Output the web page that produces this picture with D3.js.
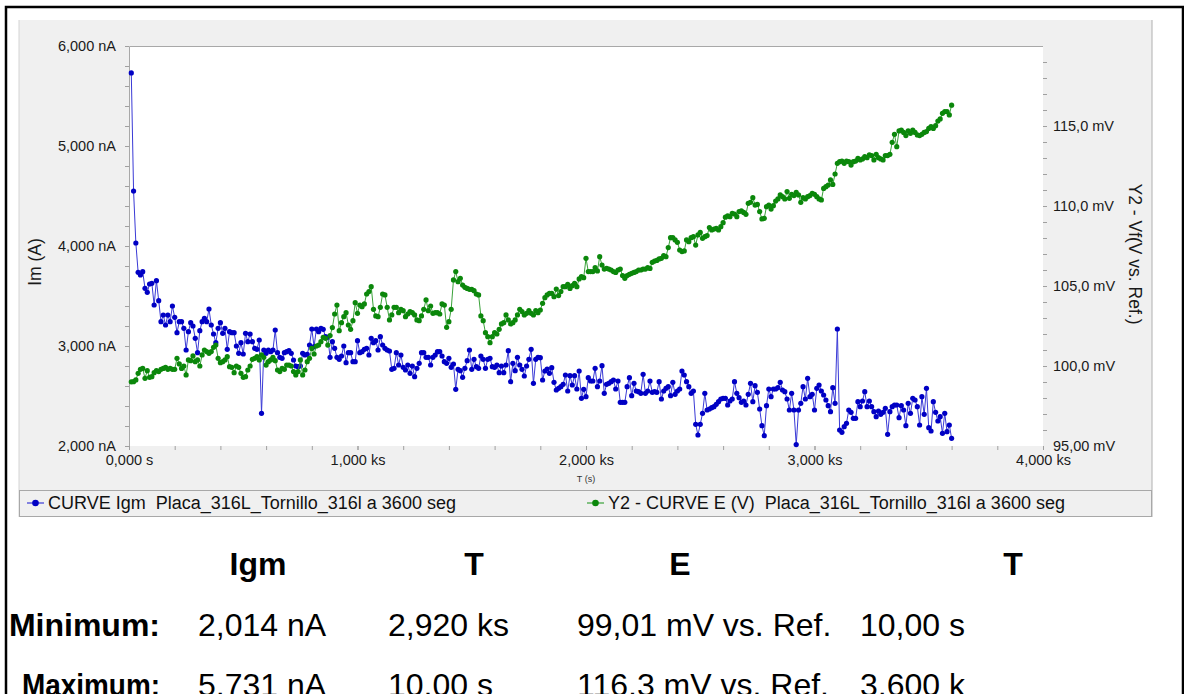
<!DOCTYPE html>
<html>
<head>
<meta charset="utf-8">
<script src="https://cdn.jsdelivr.net/npm/d3@7/dist/d3.min.js"></script>
<style>
  body { margin: 0; background: #fff; }
  svg { display: block; font-family: Arial, "Liberation Sans", sans-serif; }
</style>
</head>
<body>
<svg width="1184" height="694"></svg>
<script>
// readings every 10 s, from 10 s to 3600 s
const sampleStep = 10;

// Igm (nA)
const currentNA = [
  5731, 4550, 4030, 3737, 3710, 3743, 3577, 3537, 3620, 3627,
  3410, 3653, 3453, 3243, 3310, 3210, 3310, 3243, 3400, 3287,
  3133, 3243, 3243, 3177, 2960, 3143, 3233, 3200, 3077, 2933,
  3153, 3243, 3277, 3243, 3370, 3210, 3120, 3033, 3177, 3233,
  3127, 3177, 2967, 3143, 3133, 3133, 3000, 2927, 3033, 2920,
  3127, 3043, 3120, 3043, 2977, 2967, 3060, 2327, 2960, 2927,
  2960, 2943, 2960, 3160, 2933, 2887, 2877, 2933, 2943, 2953,
  2927, 2860, 2800, 2793, 2800, 2927, 2910, 2917, 3010, 3170,
  2993, 3170, 3143, 3177, 3167, 3093, 3087, 2887, 3043, 2977,
  2887, 2867, 2900, 3000, 2833, 2933, 2933, 2843, 2843, 3053,
  2933, 2943, 2967, 2977, 2910, 3077, 3033, 3053, 2960, 3093,
  3010, 2977, 2960, 2950, 2767, 2777, 2933, 2810, 2910, 2787,
  2760, 2810, 2727, 2800, 2693, 2777, 2827, 2933, 2933, 2887,
  2887, 2810, 2887, 2910, 2943, 2943, 2900, 2843, 2827, 2877,
  2787, 2820, 2567, 2767, 2753, 2687, 2777, 2853, 2960, 2767,
  2867, 2793, 2777, 2900, 2867, 2777, 2867, 2877, 2793, 2787,
  2810, 2733, 2800, 2733, 2810, 2953, 2643, 2827, 2753, 2887,
  2810, 2767, 2700, 2800, 2867, 2967, 2627, 2867, 2887, 2883,
  2660, 2750, 2770, 2727, 2783, 2637, 2560, 2577, 2593, 2617,
  2710, 2550, 2703, 2610, 2703, 2570, 2750, 2477, 2567, 2493,
  2683, 2650, 2650, 2777, 2593, 2650, 2803, 2527, 2617, 2627,
  2643, 2660, 2570, 2650, 2437, 2437, 2437, 2593, 2683, 2503,
  2627, 2550, 2543, 2527, 2717, 2527, 2550, 2650, 2537, 2543,
  2537, 2643, 2470, 2550, 2577, 2593, 2503, 2637, 2517, 2550,
  2570, 2750, 2710, 2643, 2593, 2527, 2550, 2217, 2110, 2217,
  2327, 2527, 2360, 2370, 2383, 2393, 2417, 2443, 2470, 2477,
  2477, 2410, 2450, 2470, 2643, 2527, 2483, 2437, 2450, 2410,
  2517, 2627, 2443, 2603, 2537, 2370, 2203, 2103, 2403, 2570,
  2493, 2570, 2570, 2583, 2637, 2560, 2543, 2470, 2360, 2527,
  2360, 2014, 2360, 2427, 2593, 2470, 2677, 2493, 2517, 2360,
  2577, 2610, 2550, 2510, 2460, 2403, 2343, 2583, 2427, 3170,
  2160, 2137, 2193, 2227, 2360, 2337, 2277, 2277, 2443, 2393,
  2450, 2543, 2393, 2450, 2393, 2343, 2293, 2350, 2317, 2337,
  2377, 2117, 2343, 2393, 2410, 2410, 2283, 2403, 2360, 2203,
  2427, 2327, 2477, 2460, 2393, 2210, 2493, 2317, 2577, 2183,
  2150, 2443, 2337, 2250, 2293, 2127, 2327, 2143, 2210, 2077
];

// E (mV vs. Ref.)
const potentialMV = [
  99.01, 99.02, 99.13, 99.54, 99.79, 99.85, 99.23, 99.71, 99.29, 99.33,
  99.58, 99.71, 99.65, 99.79, 99.85, 99.92, 99.79, 99.85, 99.79, 99.79,
  100.48, 100.13, 99.85, 100.0, 99.44, 100.38, 100.33, 100.63, 100.27, 100.38,
  100.0, 100.69, 101.0, 100.9, 100.79, 100.9, 101.17, 101.31, 100.48, 100.21,
  100.27, 100.38, 100.58, 99.96, 99.92, 99.58, 100.0, 99.92, 99.54, 99.29,
  99.33, 99.75, 100.0, 100.42, 100.48, 100.58, 100.38, 100.69, 100.54, 100.06,
  100.27, 100.38, 100.54, 100.33, 99.75, 99.65, 99.85, 99.79, 100.06, 100.06,
  100.0, 99.65, 99.44, 99.65, 100.38, 99.44, 99.75, 100.27, 100.48, 101.1,
  100.75, 101.25, 101.31, 101.52, 101.79, 101.73, 101.31, 101.9, 102.4, 103.25,
  103.81, 102.21, 102.71, 103.08, 103.33, 102.56, 102.29, 102.83, 103.96, 103.29,
  103.81, 103.71, 103.88, 104.5, 104.65, 104.96, 103.54, 103.13, 103.08, 103.67,
  104.5, 104.44, 103.67, 102.88, 103.19, 103.67, 103.67, 103.33, 103.54, 103.46,
  103.08, 103.25, 103.4, 103.33, 103.19, 102.88, 102.83, 103.13, 103.54, 104.13,
  103.46, 103.75, 103.29, 103.33, 103.33, 103.25, 103.88, 103.81, 102.42, 102.77,
  103.54, 105.38, 105.9, 105.27, 105.48, 105.06, 104.92, 104.85, 104.79, 104.79,
  104.71, 104.5, 104.44, 103.13, 102.83, 102.08, 101.83, 101.46, 101.83, 102.08,
  102.0, 102.29, 102.63, 102.71, 103.19, 102.88, 102.63, 102.71, 102.88, 103.19,
  103.54, 103.4, 103.19, 103.29, 103.46, 103.29, 103.19, 103.46, 103.33, 103.5,
  103.92, 104.27, 104.44, 104.54, 104.54, 104.33, 104.81, 104.4, 104.65, 104.96,
  104.96, 105.1, 104.85, 105.02, 105.17, 104.96, 105.44, 105.58, 105.52, 106.73,
  105.9, 105.9, 105.9, 106.15, 105.94, 106.83, 106.31, 106.06, 106.1, 106.06,
  106.0, 105.9, 105.85, 106.0, 106.06, 105.65, 105.48, 105.65, 105.73, 105.79,
  105.85, 105.9, 106.0, 106.0, 106.06, 106.06, 106.15, 106.1, 106.48, 106.56,
  106.6, 106.69, 106.73, 106.9, 106.83, 107.4, 108.02, 108.02, 107.88, 107.73,
  107.25, 107.15, 107.19, 107.88, 107.77, 108.02, 108.08, 107.56, 108.19, 108.35,
  107.98, 108.08, 108.15, 108.65, 108.5, 108.56, 108.6, 108.5, 108.71, 108.96,
  109.3, 109.38, 109.33, 109.54, 109.5, 109.33, 109.65, 109.7, 109.6, 109.48,
  110.17, 110.23, 110.52, 110.06, 110.1, 109.65, 109.19, 109.23, 109.96, 110.06,
  109.81, 110.02, 110.31, 110.44, 110.69, 110.58, 110.44, 110.9, 110.48, 110.73,
  110.65, 110.85, 110.69, 110.23, 110.52, 110.44, 110.58, 110.65, 110.79, 110.73,
  110.58, 110.44, 110.38, 111.1, 111.21, 111.31, 111.63, 111.35, 112.0, 112.67,
  112.77, 112.81, 112.67, 112.81, 112.77, 112.56, 112.77, 112.81, 112.98, 112.88,
  112.94, 113.08, 113.02, 113.19, 113.15, 112.88, 113.23, 113.02, 112.94, 112.88,
  113.15, 113.15, 113.23, 113.98, 114.48, 113.71, 114.69, 114.75, 114.6, 114.4,
  114.69, 114.54, 114.75, 114.6, 114.44, 114.4, 114.48, 114.6, 114.65, 114.85,
  114.96, 114.85, 115.02, 115.31, 115.44, 115.79, 115.9, 115.9, 115.69, 116.3
];

const xTicks = [0, 1000, 2000, 3000, 4000];
const xTickLabels = ['0,000 s', '1,000 ks', '2,000 ks', '3,000 ks', '4,000 ks'];
const leftTicks = [2000, 3000, 4000, 5000, 6000];
const leftTickLabels = ['2,000 nA', '3,000 nA', '4,000 nA', '5,000 nA', '6,000 nA'];
const rightTicks = [95, 100, 105, 110, 115];
const rightTickLabels = ['95,00 mV', '100,0 mV', '105,0 mV', '110,0 mV', '115,0 mV'];
const legendNames = ['CURVE Igm  Placa_316L_Tornillo_316l a 3600 seg',
                     'Y2 - CURVE E (V)  Placa_316L_Tornillo_316l a 3600 seg'];
const tableHeaders = ['Igm', 'T', 'E', 'T'];
const tableRows = [
  ['Minimum:', '2,014 nA', '2,920 ks', '99,01 mV vs. Ref.', '10,00 s'],
  ['Maximum:', '5,731 nA', '10,00 s', '116,3 mV vs. Ref.', '3,600 k']
];

const blue = {dot: '#0000c4', line: '#3a3ad6'};
const green = {dot: '#0b870b', line: '#3aa23a'};

const svg = d3.select('svg');
const plot = {left: 129, right: 1043, top: 46, bottom: 446};

const x = d3.scaleLinear().domain([0, 4000]).range([plot.left, plot.right]);
const yL = d3.scaleLinear().domain([2000, 6000]).range([plot.bottom, plot.top]);
const yR = d3.scaleLinear().domain([95, 120]).range([plot.bottom, plot.top]);

// frame + grey panel
svg.append('rect').attr('x', 19).attr('y', 20).attr('width', 1133).attr('height', 497).attr('fill', '#f0f0f0');
svg.append('line').attr('x1', 19).attr('x2', 19).attr('y1', 20).attr('y2', 517).attr('stroke', '#d4d4d4');
svg.append('line').attr('x1', 1152).attr('x2', 1152).attr('y1', 20).attr('y2', 517).attr('stroke', '#b0b0b0');
svg.append('path').attr('d', 'M6,694V7H1183V694').attr('fill', 'none').attr('stroke', '#000').attr('stroke-width', 2.5);

svg.append('rect').attr('x', plot.left).attr('y', plot.top)
  .attr('width', plot.right - plot.left).attr('height', plot.bottom - plot.top).attr('fill', '#fff');
svg.append('path').attr('d', `M${plot.left + 0.5},${plot.bottom}V${plot.top + 0.5}H${plot.right}`)
  .attr('fill', 'none').attr('stroke', '#a8a8a8');

// axes
function styleAxis(g) {
  g.select('.domain').remove();
  g.selectAll('line').attr('stroke', '#a0a0a0');
  g.selectAll('text').attr('font-size', 14.5).attr('fill', '#1a1a1a')
    .attr('font-family', 'Arial, "Liberation Sans", sans-serif');
}

svg.append('g').attr('transform', `translate(0,${plot.bottom})`)
  .call(d3.axisBottom(x).tickValues(d3.range(0, 4001, 200)).tickFormat('').tickSize(4))
  .call(styleAxis);
svg.append('g').attr('transform', `translate(0,${plot.bottom})`)
  .call(d3.axisBottom(x).tickValues(xTicks).tickFormat((d, i) => xTickLabels[i]).tickSize(4).tickPadding(5))
  .call(styleAxis);

svg.append('g').attr('transform', `translate(${plot.left},0)`)
  .call(d3.axisLeft(yL).tickValues(d3.range(2000, 6001, 200)).tickFormat('').tickSize(4))
  .call(styleAxis);
svg.append('g').attr('transform', `translate(${plot.left},0)`)
  .call(d3.axisLeft(yL).tickValues(leftTicks).tickFormat((d, i) => leftTickLabels[i]).tickSize(4).tickPadding(9))
  .call(styleAxis);

svg.append('g').attr('transform', `translate(${plot.right},0)`)
  .call(d3.axisRight(yR).tickValues(d3.range(96, 120, 1)).tickFormat('').tickSize(4))
  .call(styleAxis);
svg.append('g').attr('transform', `translate(${plot.right},0)`)
  .call(d3.axisRight(yR).tickValues(rightTicks).tickFormat((d, i) => rightTickLabels[i]).tickSize(0).tickPadding(10))
  .call(styleAxis);

// axis titles
svg.append('text').attr('transform', 'translate(41,262) rotate(-90)')
  .attr('text-anchor', 'middle').attr('font-size', 17.5).attr('fill', '#1a1a1a').text('Im (A)');
svg.append('text').attr('transform', 'translate(1129,254) rotate(90)')
  .attr('text-anchor', 'middle').attr('font-size', 17.5).attr('fill', '#1a1a1a').text('Y2 - Vf(V vs. Ref.)');
svg.append('text').attr('x', (plot.left + plot.right) / 2).attr('y', 482)
  .attr('text-anchor', 'middle').attr('font-size', 9).attr('fill', '#333').text('T (s)');

// series
const currentPts = currentNA.map((v, i) => [(i + 1) * sampleStep, v]);
const potentialPts = potentialMV.map((v, i) => [(i + 1) * sampleStep, v]);

function drawSeries(pts, yScale, col) {
  const g = svg.append('g');
  g.append('path').datum(pts)
    .attr('d', d3.line().x(d => x(d[0])).y(d => yScale(d[1])))
    .attr('fill', 'none').attr('stroke', col.line).attr('stroke-width', 1);
  g.selectAll('circle').data(pts).enter().append('circle')
    .attr('cx', d => x(d[0])).attr('cy', d => yScale(d[1]))
    .attr('r', 2.6).attr('fill', col.dot);
}
drawSeries(currentPts, yL, blue);
drawSeries(potentialPts, yR, green);

// legend
svg.append('rect').attr('x', 19.5).attr('y', 490.5).attr('width', 1132).attr('height', 26)
  .attr('fill', '#f0f0f0').attr('stroke', '#a8a8a8');
const legendItems = [
  {x: 27, name: legendNames[0], col: blue},
  {x: 587, name: legendNames[1], col: green}
];
legendItems.forEach(it => {
  const g = svg.append('g').attr('transform', `translate(${it.x},503)`);
  g.append('line').attr('x1', 0).attr('x2', 17).attr('stroke', it.col.line).attr('stroke-width', 1.2);
  g.append('circle').attr('cx', 8.5).attr('r', 3.3).attr('fill', it.col.dot);
  g.append('text').attr('x', 21).attr('y', 6).attr('font-size', 18).attr('fill', '#111')
    .style('white-space', 'pre').text(it.name);
});

// statistics table
const headerX = [258, 474, 680, 1013];
svg.append('g').selectAll('text').data(tableHeaders).enter().append('text')
  .attr('x', (d, i) => headerX[i]).attr('y', 575)
  .attr('text-anchor', 'middle').attr('font-size', 32).attr('font-weight', 'bold').text(d => d);

const colX = [160, 198, 388, 577, 860];
const rowY = [636, 696];
tableRows.forEach((row, r) => {
  const t = svg.append('g').selectAll('text').data(row).enter().append('text')
    .attr('x', (d, i) => colX[i]).attr('y', rowY[r])
    .attr('text-anchor', (d, i) => i === 0 ? 'end' : 'start')
    .attr('font-size', 32).attr('font-weight', (d, i) => i === 0 ? 'bold' : 'normal')
    .text(d => d);
  // the second row label is squeezed in the source table
  if (r === 1) t.filter((d, i) => i === 0).attr('textLength', 138).attr('lengthAdjust', 'spacingAndGlyphs');
});
</script>
</body>
</html>
